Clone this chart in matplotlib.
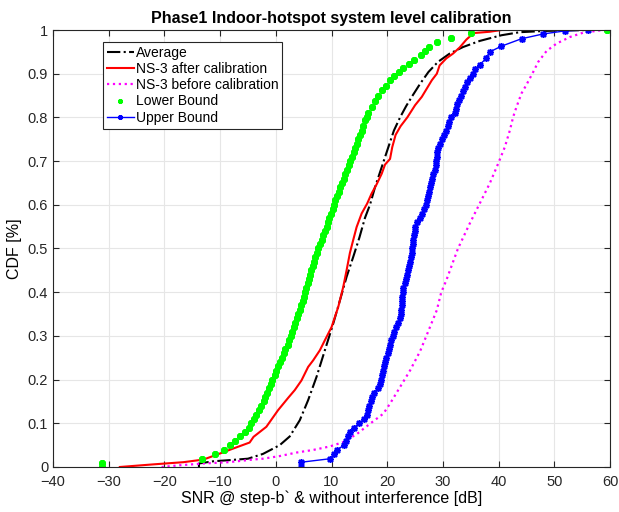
import numpy as np
import matplotlib
matplotlib.use("Agg")
import matplotlib.pyplot as plt

plt.rcParams['font.family'] = ['Liberation Sans', 'DejaVu Sans']

# Average (black dash-dot)
avg_x = [-13.8, -13.8, -11.3, -8.0, -5.0, -2.3, 0.7, 2.5, 4.3, 5.8, 7.3, 8.8, 10.3, 11.5,
         12.7, 13.9, 15.0, 16.0, 16.9, 17.8, 19.0, 20.2, 21.2, 22.3, 23.4, 24.4, 25.9,
         27.4, 29.1, 31.2, 33.6, 36.6, 40.5, 43.8, 48.6, 56.0]
avg_y = [0.000, 0.008, 0.013, 0.016, 0.019, 0.030, 0.050, 0.070, 0.107, 0.153, 0.206,
         0.267, 0.328, 0.381, 0.435, 0.481, 0.525, 0.570, 0.600, 0.640, 0.686, 0.732,
         0.770, 0.800, 0.826, 0.847, 0.877, 0.904, 0.927, 0.946, 0.961, 0.975, 0.988,
         0.995, 0.998, 1.000]

# NS-3 after calibration (red)
after_x = [-28.0, -22.0, -16.6, -13.0, -10.0, -7.7, -4.7, -4.0, -1.7, 0.4, 2.2, 3.4, 4.6,
           5.8, 6.7, 7.9, 8.8, 10.0, 11.2, 12.1, 12.7, 13.3, 13.8, 14.5, 15.4, 16.4,
           17.2, 18.1, 19.0, 19.6, 20.5, 20.9, 21.5, 22.4, 23.6, 25.0, 26.2, 27.1, 28.0,
           28.9, 29.4, 30.6, 31.8, 33.0, 34.2, 35.5, 38.4, 40.5]
after_y = [0.000, 0.006, 0.011, 0.017, 0.031, 0.042, 0.056, 0.069, 0.092, 0.130, 0.158,
           0.176, 0.198, 0.229, 0.244, 0.267, 0.290, 0.320, 0.366, 0.412, 0.450, 0.490,
           0.515, 0.549, 0.580, 0.603, 0.626, 0.647, 0.671, 0.692, 0.705, 0.732, 0.760,
           0.780, 0.800, 0.828, 0.847, 0.866, 0.885, 0.900, 0.919, 0.935, 0.946, 0.960,
           0.978, 0.993, 0.996, 1.000]

# NS-3 before calibration (magenta dotted)
before_x = [-20.5, -17.2, -13.0, -8.5, -4.1, -2.3, 0.7, 3.7, 6.7, 9.7, 12.1, 14.5, 16.9,
            19.3, 20.5, 22.3, 24.1, 25.9, 27.6, 28.9, 29.7, 30.6, 31.8, 32.7, 34.8, 36.6,
            38.4, 39.9, 41.1, 42.0, 42.6, 43.2, 44.1, 45.0, 46.2, 47.1, 48.6, 50.4, 52.8,
            55.2, 58.2, 59.7]
before_y = [0.000, 0.004, 0.008, 0.011, 0.017, 0.019, 0.025, 0.033, 0.039, 0.047, 0.057,
            0.075, 0.099, 0.122, 0.145, 0.183, 0.221, 0.265, 0.318, 0.359, 0.400, 0.427,
            0.469, 0.500, 0.557, 0.603, 0.649, 0.694, 0.732, 0.770, 0.801, 0.824, 0.855,
            0.875, 0.904, 0.927, 0.952, 0.969, 0.984, 0.994, 0.999, 1.000]

# Lower Bound (green markers)
lower_x = [-31.2, -31.2, -13.3, -10.9, -9.3, -8.3, -7.3, -6.4, -5.6, -4.9, -4.4, -3.9,
           -3.5, -3.0, -2.6, -2.2, -1.9, -1.6, -1.2, -0.9, -0.6, -0.2, 0.1, 0.4, 0.8,
           1.1, 1.4, 1.7, 2.1, 2.4, 2.7, 2.9, 3.2, 3.5, 3.8, 4.0, 4.3, 4.5, 4.8, 5.0,
           5.2, 5.5, 5.7, 5.9, 6.1, 6.4, 6.6, 6.9, 7.1, 7.4, 7.6, 7.9, 8.2, 8.5, 8.8,
           9.1, 9.4, 9.6, 9.9, 10.2, 10.4, 10.7, 11.0, 11.3, 11.6, 11.9, 12.2, 12.5,
           12.8, 13.1, 13.4, 13.7, 14.0, 14.3, 14.5, 14.8, 15.1, 15.4, 15.7, 16.0, 16.3,
           16.6, 17.2, 17.8, 18.4, 19.0, 19.7, 20.5, 21.2, 22.1, 22.9, 23.9, 24.8, 26.0,
           26.8, 27.5, 29.0, 31.5, 35.0, 59.5]
lower_y = [0.000, 0.010, 0.019, 0.029, 0.040, 0.050, 0.060, 0.070, 0.080, 0.090, 0.100,
           0.110, 0.120, 0.130, 0.140, 0.150, 0.160, 0.170, 0.180, 0.190, 0.200, 0.210,
           0.220, 0.230, 0.240, 0.250, 0.260, 0.270, 0.280, 0.290, 0.300, 0.310, 0.320,
           0.330, 0.340, 0.350, 0.360, 0.370, 0.380, 0.390, 0.400, 0.410, 0.420, 0.430,
           0.440, 0.450, 0.460, 0.470, 0.480, 0.490, 0.500, 0.510, 0.520, 0.530, 0.540,
           0.550, 0.560, 0.570, 0.580, 0.590, 0.600, 0.610, 0.620, 0.630, 0.640, 0.650,
           0.660, 0.670, 0.680, 0.690, 0.700, 0.710, 0.720, 0.730, 0.740, 0.750, 0.760,
           0.770, 0.780, 0.793, 0.800, 0.809, 0.824, 0.837, 0.849, 0.862, 0.873, 0.885,
           0.895, 0.904, 0.913, 0.923, 0.932, 0.942, 0.952, 0.961, 0.973, 0.982, 0.992,
           1.000]

# Upper Bound (blue line + markers)
upper_x = [4.6, 4.6, 9.8, 10.4, 11.0, 12.3, 12.6, 12.9, 13.3, 14.0, 15.0, 15.9, 16.3,
           16.6, 16.8, 17.1, 17.3, 17.6, 18.4, 18.7, 18.9, 19.1, 19.3, 19.4, 19.6, 19.8,
           20.1, 20.3, 20.5, 20.7, 21.0, 21.2, 21.5, 21.9, 22.2, 22.4, 22.5, 22.6, 22.6,
           22.7, 22.8, 22.9, 23.1, 23.3, 23.5, 23.7, 23.9, 24.1, 24.2, 24.4, 24.5, 24.6,
           24.7, 24.8, 24.9, 25.0, 25.4, 25.9, 26.3, 26.6, 26.9, 27.1, 27.3, 27.5, 27.7,
           27.9, 28.1, 28.3, 28.5, 28.7, 28.8, 28.9, 29.0, 29.2, 29.5, 29.8, 30.2, 30.6,
           30.9, 31.1, 31.4, 32.1, 32.4, 32.6, 32.9, 33.2, 33.6, 33.9, 34.4, 34.8, 35.4,
           35.8, 36.6, 37.8, 38.4, 40.5, 44.1, 48.0, 51.9, 56.1]
upper_y = [0.000, 0.011, 0.019, 0.030, 0.040, 0.050, 0.060, 0.070, 0.080, 0.090, 0.100,
           0.110, 0.120, 0.130, 0.140, 0.150, 0.160, 0.170, 0.180, 0.190, 0.200, 0.210,
           0.220, 0.230, 0.240, 0.250, 0.260, 0.270, 0.280, 0.290, 0.300, 0.310, 0.320,
           0.330, 0.340, 0.350, 0.360, 0.370, 0.380, 0.390, 0.400, 0.410, 0.420, 0.430,
           0.440, 0.450, 0.460, 0.470, 0.480, 0.490, 0.500, 0.510, 0.520, 0.530, 0.540,
           0.550, 0.560, 0.570, 0.580, 0.590, 0.600, 0.610, 0.620, 0.630, 0.640, 0.650,
           0.660, 0.670, 0.680, 0.690, 0.700, 0.710, 0.720, 0.730, 0.740, 0.750, 0.760,
           0.770, 0.780, 0.790, 0.800, 0.810, 0.820, 0.830, 0.840, 0.850, 0.860, 0.870,
           0.880, 0.890, 0.900, 0.910, 0.921, 0.935, 0.950, 0.963, 0.980, 0.991, 0.998,
           1.000]

xticks = np.arange(-40, 61, 10)
yticks = [0, 0.1, 0.2, 0.3, 0.4, 0.5, 0.6, 0.7, 0.8, 0.9, 1]
ytick_labels = ['0', '0.1', '0.2', '0.3', '0.4', '0.5', '0.6', '0.7', '0.8', '0.9', '1']

asterisk = (8, 2, 0)

fig = plt.figure(figsize=(6.19, 5.12), dpi=100)
ax = fig.add_axes([0.0856, 0.0879, 0.9, 0.8535])

ax.plot(avg_x, avg_y, color='black', linestyle='-.', linewidth=1.5, label='Average')
ax.plot(after_x, after_y, color='red', linewidth=1.5, label='NS-3 after calibration')
ax.plot(before_x, before_y, color='#ff00ff', linestyle=':', linewidth=1.6,
        label='NS-3 before calibration')
ax.plot(lower_x, lower_y, color='#00ff00', linestyle='none', marker=asterisk,
        markersize=5, markeredgewidth=1.4, label='Lower Bound')
ax.plot(upper_x, upper_y, color='blue', linewidth=1.0, marker=asterisk,
        markersize=5, markeredgewidth=1.1, label='Upper Bound')

ax.set_xlim(-40, 60)
ax.set_ylim(0, 1)
ax.set_xticks(xticks)
ax.set_yticks(yticks)
ax.set_yticklabels(ytick_labels)
ax.tick_params(direction='in', top=True, right=True, labelsize=10.5, length=4,
               colors='#262626')
ax.tick_params(axis='x', pad=6)
ax.grid(True, color='#e6e6e6', linewidth=0.8)
ax.set_axisbelow(True)
for s in ax.spines.values():
    s.set_color('#262626')
    s.set_linewidth(0.8)

ax.set_title('Phase1 Indoor-hotspot system level calibration', fontsize=11.5,
             fontweight='bold', pad=5)
ax.set_xlabel('SNR @ step-b` & without interference [dB]', fontsize=11.5, labelpad=1)
ax.set_ylabel('CDF [%]', fontsize=11.5, labelpad=4)

leg = ax.legend(loc='upper left', bbox_to_anchor=(0.0898, 0.9725), fontsize=10,
                handlelength=1.9, handletextpad=0.15, borderpad=0.3, labelspacing=0.15,
                borderaxespad=0, fancybox=False, framealpha=1, numpoints=1,
                markerscale=0.7)
leg.get_frame().set_edgecolor('#262626')
leg.get_frame().set_linewidth(0.8)

fig.savefig('out.png', dpi=100)
